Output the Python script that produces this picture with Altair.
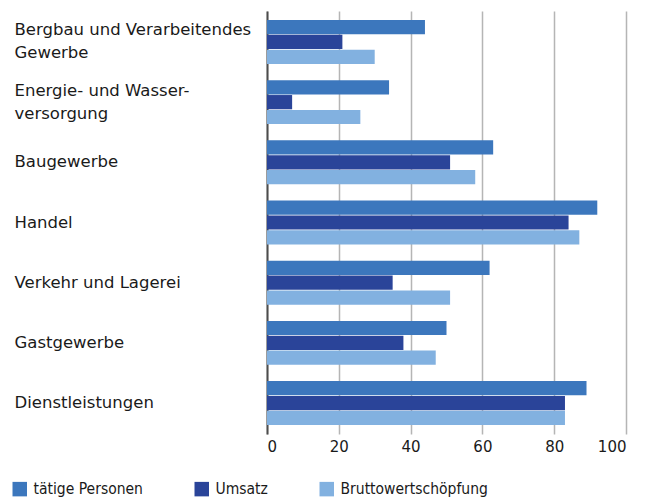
import altair as alt
import pandas as pd

categories = [
    "Bergbau und Verarbeitendes|Gewerbe",
    "Energie- und Wasser-|versorgung",
    "Baugewerbe",
    "Handel",
    "Verkehr und Lagerei",
    "Gastgewerbe",
    "Dienstleistungen",
]
series = ["tätige Personen", "Umsatz", "Bruttowertschöpfung"]
taetige = [44, 34, 63, 92, 62, 50, 89]
umsatz = [21, 7, 51, 84, 35, 38, 83]
bws = [30, 26, 58, 87, 51, 47, 83]
x_ticks = [0, 20, 40, 60, 80, 100]
colors = ["#3C77BD", "#2A4499", "#82B1E0"]

rows = []
for i, c in enumerate(categories):
    for s, vals in zip(series, [taetige, umsatz, bws]):
        rows.append({"Branche": c, "Reihe": s, "Wert": vals[i]})
df = pd.DataFrame(rows)

FONT = "DejaVu Sans"
LEGEND_FONT = "DejaVu Sans Condensed"

bars = alt.Chart(df).mark_bar().encode(
    y=alt.Y(
        "Branche:N",
        sort=categories,
        scale=alt.Scale(paddingInner=0.27, paddingOuter=0.15),
        axis=alt.Axis(
            title=None,
            labelExpr="split(datum.label, '|')",
            labelAlign="left",
            labelBaseline="middle",
            labelPadding=253,
            labelOffset={
                "condition": {"test": "indexof(datum.value, '|') >= 0", "value": -11.5},
                "value": 0,
            },
            labelFont=FONT,
            labelFontSize=16.5,
            labelColor="#1a1a1a",
            labelLineHeight=23,
            labelLimit=300,
            ticks=False,
            domain=True,
            domainColor="#4d4d4d",
            domainWidth=2,
            grid=False,
        ),
    ),
    yOffset=alt.YOffset(
        "Reihe:N", sort=series, scale=alt.Scale(paddingInner=0.04)
    ),
    x=alt.X(
        "Wert:Q",
        scale=alt.Scale(domain=[0, 100], nice=False),
        axis=alt.Axis(
            title=None,
            values=x_ticks,
            labelFont=FONT,
            labelFontSize=15,
            labelColor="#1a1a1a",
            labelPadding=5,
            domain=False,
            ticks=False,
            grid=True,
            gridColor="#b5b5b5",
            gridWidth=1.5,
        ),
    ),
    color=alt.Color(
        "Reihe:N",
        sort=series,
        scale=alt.Scale(domain=series, range=colors),
        legend=alt.Legend(
            title=None,
            orient="none",
            direction="horizontal",
            legendX=-255,
            legendY=470,
            symbolType="square",
            symbolSize=210,
            symbolStrokeWidth=0,
            symbolOpacity=1,
            labelFont=LEGEND_FONT,
            labelFontSize=15.5,
            labelColor="#1a1a1a",
            labelOffset=6,
            labelLimit=300,
            columnPadding=51,
        ),
    ),
)

chart = bars.properties(
    width=359,
    height=423,
    padding={"left": 4, "top": 3, "right": 5, "bottom": 6},
).configure_view(stroke=None)

chart.save("out.html", embed_options={"renderer": "svg", "actions": False})
